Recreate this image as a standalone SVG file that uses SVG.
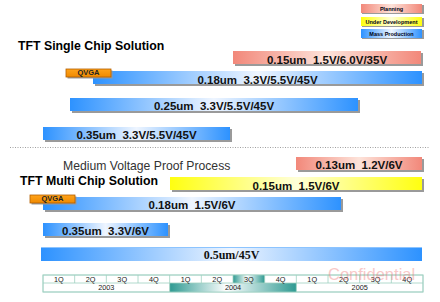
<svg xmlns="http://www.w3.org/2000/svg" width="440" height="302" viewBox="0 0 440 302">
<style>
.bt{font-family:"Liberation Sans",Arial,sans-serif;font-weight:bold;font-size:11.5px;fill:#111;text-anchor:middle;white-space:pre}
.h{font-family:"Liberation Sans",Arial,sans-serif;font-weight:bold;font-size:12.3px;fill:#000}
.lg{font-family:"Liberation Sans",Arial,sans-serif;font-weight:bold;font-size:5.5px;fill:#001;text-anchor:middle}
.q{font-family:"Liberation Sans",Arial,sans-serif;font-weight:bold;font-size:7.5px;fill:#222;text-anchor:middle}
.tl{font-family:"Liberation Sans",Arial,sans-serif;font-size:7.3px;fill:#1a1a1a;text-anchor:middle}
.sh{fill:#9a9a9a}
.blue{fill:url(#gB)}
.pink{fill:url(#gP)}
.yel{fill:url(#gY)}
.cell{fill:#fff;stroke:#9fd0c0;stroke-width:0.8}
</style>
<defs>
<linearGradient id="gB" x1="0" y1="0" x2="1" y2="0">
<stop offset="0" stop-color="#2d92ff"/><stop offset="0.5" stop-color="#eef5ff"/><stop offset="1" stop-color="#2d92ff"/>
</linearGradient>
<linearGradient id="gP" x1="0" y1="0" x2="1" y2="0">
<stop offset="0" stop-color="#f2887a"/><stop offset="0.5" stop-color="#fde3da"/><stop offset="1" stop-color="#f2887a"/>
</linearGradient>
<linearGradient id="gY" x1="0" y1="0" x2="1" y2="0">
<stop offset="0" stop-color="#ffff10"/><stop offset="0.5" stop-color="#ffffd8"/><stop offset="1" stop-color="#ffff10"/>
</linearGradient>
<linearGradient id="gT" x1="0" y1="0" x2="1" y2="0">
<stop offset="0" stop-color="#2f9a92"/><stop offset="0.45" stop-color="#ffffff"/><stop offset="1" stop-color="#2f9a92"/>
</linearGradient>
<linearGradient id="gO" x1="0" y1="0" x2="0" y2="1">
<stop offset="0" stop-color="#ffa31a"/><stop offset="1" stop-color="#f08a00"/>
</linearGradient>
</defs>

<g id="legend-planning">
<rect class="sh" x="362" y="5" width="62" height="9"/>
<rect class="pink" x="361" y="4" width="61" height="9"/>
<text class="lg" x="391.5" y="10.8">Planning</text>
</g>
<g id="legend-under-development">
<rect class="sh" x="362" y="18" width="62" height="9"/>
<rect class="yel" x="361" y="17" width="61" height="9"/>
<text class="lg" x="391.5" y="23.8">Under Development</text>
</g>
<g id="legend-mass-production">
<rect class="sh" x="362" y="30" width="62" height="9"/>
<rect class="blue" x="361" y="29" width="61" height="9"/>
<text class="lg" x="391.5" y="35.8">Mass Production</text>
</g>

<g id="title-single">
<text class="h" x="18" y="50">TFT Single Chip Solution</text>
</g>

<g id="bar-s-015">
<rect class="sh" x="235" y="53" width="188" height="13"/>
<rect class="pink" x="233" y="51" width="188" height="13"/>
<text class="bt" x="327" y="63.5">0.15um  1.5V/6.0V/35V</text>
</g>
<g id="bar-s-018">
<rect class="sh" x="95" y="73" width="329" height="13"/>
<rect class="blue" x="93" y="71" width="329" height="13"/>
<text class="bt" x="257.5" y="83.5">0.18um  3.3V/5.5V/45V</text>
</g>
<g id="qvga-1">
<rect class="sh" x="67.5" y="70.5" width="45" height="8"/>
<rect x="66" y="69" width="45" height="8" fill="url(#gO)" stroke="#b35f00" stroke-width="0.8"/>
<text class="q" x="88.5" y="75">QVGA</text>
</g>
<g id="bar-s-025">
<rect class="sh" x="72" y="100" width="288" height="13"/>
<rect class="blue" x="70" y="98" width="288" height="13"/>
<text class="bt" x="214" y="110">0.25um  3.3V/5.5V/45V</text>
</g>
<g id="bar-s-035">
<rect class="sh" x="45" y="129" width="187" height="13"/>
<rect class="blue" x="43" y="127" width="187" height="13"/>
<text class="bt" x="136.5" y="139">0.35um  3.3V/5.5V/45V</text>
</g>

<line x1="10" y1="147.5" x2="430" y2="147.5" stroke="#888" stroke-width="0.8" stroke-dasharray="1 1.5"/>

<g id="title-medium">
<text x="63" y="170" style="font-family:'Liberation Sans',Arial,sans-serif;font-size:12.2px;fill:#333">Medium Voltage Proof Process</text>
</g>
<g id="title-multi">
<text class="h" x="20" y="185">TFT Multi Chip Solution</text>
</g>

<g id="bar-m-013">
<rect class="sh" x="298" y="159" width="126" height="13"/>
<rect class="pink" x="296" y="157" width="126" height="13"/>
<text class="bt" x="359" y="168.5">0.13um  1.2V/6V</text>
</g>
<g id="bar-m-015">
<rect class="sh" x="172" y="179" width="252" height="13"/>
<rect class="yel" x="170" y="177" width="252" height="13"/>
<text class="bt" x="296" y="189.5">0.15um  1.5V/6V</text>
</g>
<g id="bar-m-018">
<rect class="sh" x="45" y="199" width="298" height="13"/>
<rect class="blue" x="43" y="197" width="298" height="13"/>
<text class="bt" x="192" y="209">0.18um  1.5V/6V</text>
</g>
<g id="qvga-2">
<rect class="sh" x="31.5" y="196.5" width="45" height="8"/>
<rect x="30" y="195" width="45" height="8" fill="url(#gO)" stroke="#b35f00" stroke-width="0.8"/>
<text class="q" x="52.5" y="201">QVGA</text>
</g>
<g id="bar-m-035">
<rect class="sh" x="45" y="225" width="125" height="13"/>
<rect class="blue" x="43" y="223" width="125" height="13"/>
<text class="bt" x="105.5" y="235">0.35um  3.3V/6V</text>
</g>
<g id="bar-m-05">
<rect class="blue" x="41" y="247" width="381" height="14"/>
<rect x="41" y="247" width="381" height="1" fill="#8cc4ff"/>
<text x="231.5" y="258.5" style="font-family:'Liberation Serif','Times New Roman',serif;font-weight:bold;font-size:12px;fill:#111;text-anchor:middle">0.5um/45V</text>
</g>

<g id="timeline">
<rect class="cell" x="43" y="275" width="380" height="17"/>
<rect x="233" y="275" width="31.67" height="8" fill="url(#gT)"/>
<rect x="169.67" y="283" width="126.67" height="9" fill="url(#gT)"/>
<g fill="none" stroke="#9fd0c0" stroke-width="0.8">
<rect x="43" y="275" width="380" height="17"/>
<line x1="43" y1="283" x2="423" y2="283"/>
<line x1="74.67" y1="275" x2="74.67" y2="283"/>
<line x1="106.33" y1="275" x2="106.33" y2="283"/>
<line x1="138" y1="275" x2="138" y2="283"/>
<line x1="169.67" y1="275" x2="169.67" y2="292"/>
<line x1="201.33" y1="275" x2="201.33" y2="283"/>
<line x1="233" y1="275" x2="233" y2="283"/>
<line x1="264.67" y1="275" x2="264.67" y2="283"/>
<line x1="296.33" y1="275" x2="296.33" y2="292"/>
<line x1="328" y1="275" x2="328" y2="283"/>
<line x1="359.67" y1="275" x2="359.67" y2="283"/>
<line x1="391.33" y1="275" x2="391.33" y2="283"/>
</g>
<text class="tl" x="58.8" y="281.5">1Q</text>
<text class="tl" x="90.5" y="281.5">2Q</text>
<text class="tl" x="122.2" y="281.5">3Q</text>
<text class="tl" x="153.8" y="281.5">4Q</text>
<text class="tl" x="185.5" y="281.5">1Q</text>
<text class="tl" x="217.2" y="281.5">2Q</text>
<text class="tl" x="248.8" y="281.5">3Q</text>
<text class="tl" x="280.5" y="281.5">4Q</text>
<text class="tl" x="312.2" y="281.5">1Q</text>
<text class="tl" x="343.8" y="281.5">2Q</text>
<text class="tl" x="375.5" y="281.5">3Q</text>
<text class="tl" x="407.2" y="281.5">4Q</text>
<text class="tl" x="106.3" y="290.3">2003</text>
<text class="tl" x="233" y="290.3">2004</text>
<text class="tl" x="359.7" y="290.3">2005</text>
</g>

<text x="328" y="280" style="font-family:'Liberation Sans',Arial,sans-serif;font-size:16.5px;fill:#ee7777;opacity:0.4">Confidential</text>
</svg>
